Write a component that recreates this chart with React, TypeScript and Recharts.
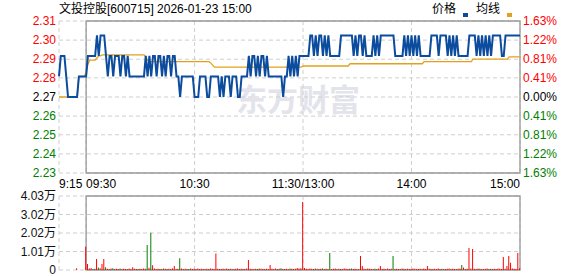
import {
  ComposedChart,
  BarChart,
  Line,
  Bar,
  Cell,
  XAxis,
  YAxis,
  CartesianGrid,
  ReferenceArea,
} from 'recharts'

const title = '文投控股[600715] 2026-01-23 15:00'
const prevClose = 2.27

// minute index: 0 = 9:15, 15 = 9:30, 135 = 11:30/13:00, 255 = 15:00
const timeTicks = [0, 15, 75, 135, 195, 255]
const timeLabels = ['9:15', '09:30', '10:30', '11:30/13:00', '14:00', '15:00']
const pctTicks = [-1.63, -1.22, -0.81, -0.41, 0, 0.41, 0.81, 1.22, 1.63]
const volTicks = [0, 10075, 20150, 30225, 40300]

const price = [
  2.28, 2.29, 2.29, 2.29, 2.28, 2.27, 2.27, 2.27, 2.27, 2.27,
  2.27, 2.28, 2.28, 2.28, 2.28, 2.28, 2.29, 2.29, 2.29, 2.29,
  2.29, 2.30, 2.29, 2.30, 2.30, 2.30, 2.29, 2.28, 2.29, 2.29,
  2.28, 2.29, 2.29, 2.29, 2.28, 2.29, 2.29, 2.28, 2.29, 2.28,
  2.28, 2.28, 2.28, 2.28, 2.28, 2.28, 2.28, 2.28, 2.29, 2.28,
  2.29, 2.28, 2.29, 2.29, 2.28, 2.29, 2.29, 2.28, 2.29, 2.28,
  2.29, 2.29, 2.28, 2.29, 2.29, 2.28, 2.28, 2.27, 2.28, 2.28,
  2.28, 2.28, 2.28, 2.28, 2.28, 2.27, 2.27, 2.27, 2.28, 2.28,
  2.28, 2.28, 2.27, 2.27, 2.28, 2.28, 2.28, 2.28, 2.28, 2.27,
  2.28, 2.27, 2.28, 2.28, 2.28, 2.27, 2.28, 2.28, 2.28, 2.27,
  2.27, 2.28, 2.28, 2.28, 2.28, 2.29, 2.28, 2.29, 2.29, 2.28,
  2.29, 2.28, 2.29, 2.29, 2.28, 2.29, 2.28, 2.28, 2.28, 2.28,
  2.28, 2.28, 2.28, 2.28, 2.27, 2.28, 2.28, 2.29, 2.28, 2.29,
  2.28, 2.29, 2.28, 2.29, 2.29, 2.29, 2.29, 2.29, 2.29, 2.30,
  2.30, 2.29, 2.30, 2.29, 2.30, 2.30, 2.29, 2.30, 2.29, 2.30,
  2.29, 2.29, 2.29, 2.29, 2.29, 2.29, 2.30, 2.30, 2.30, 2.30,
  2.30, 2.30, 2.30, 2.29, 2.30, 2.29, 2.30, 2.30, 2.29, 2.30,
  2.29, 2.29, 2.29, 2.29, 2.30, 2.29, 2.30, 2.29, 2.30, 2.30,
  2.30, 2.30, 2.30, 2.30, 2.30, 2.30, 2.29, 2.29, 2.29, 2.29,
  2.29, 2.30, 2.29, 2.30, 2.29, 2.30, 2.29, 2.30, 2.29, 2.30,
  2.29, 2.29, 2.29, 2.29, 2.29, 2.29, 2.30, 2.30, 2.30, 2.30,
  2.29, 2.30, 2.30, 2.30, 2.30, 2.29, 2.30, 2.29, 2.30, 2.29,
  2.30, 2.29, 2.29, 2.29, 2.29, 2.29, 2.29, 2.30, 2.30, 2.30,
  2.30, 2.29, 2.30, 2.29, 2.30, 2.29, 2.30, 2.29, 2.30, 2.29,
  2.30, 2.30, 2.30, 2.30, 2.30, 2.29, 2.29, 2.30, 2.30, 2.30,
  2.30, 2.30, 2.30, 2.30, 2.30, 2.30,
]

const avgPrice = [
  2.27, 2.27, 2.27, 2.27, 2.27, 2.27, 2.27, 2.27, 2.27, 2.27,
  2.27, 2.28, 2.28, 2.28, 2.28, 2.282, 2.286, 2.288, 2.288, 2.288,
  2.288, 2.289, 2.29, 2.29, 2.2905, 2.2905, 2.2905, 2.2905, 2.2905, 2.2905,
  2.2905, 2.2905, 2.2905, 2.2905, 2.2905, 2.2905, 2.2905, 2.2905, 2.2905, 2.2905,
  2.2905, 2.2905, 2.2905, 2.2905, 2.2905, 2.2905, 2.2905, 2.2905, 2.2895, 2.288,
  2.2872, 2.2872, 2.2872, 2.2872, 2.2872, 2.2872, 2.2872, 2.2872, 2.2872, 2.2872,
  2.2872, 2.2872, 2.2872, 2.2872, 2.2872, 2.2872, 2.2872, 2.2872, 2.2872, 2.2872,
  2.2872, 2.2872, 2.2872, 2.2872, 2.2872, 2.2872, 2.2872, 2.2872, 2.2872, 2.2872,
  2.2872, 2.2872, 2.2872, 2.2872, 2.2865, 2.2855, 2.2845, 2.2845, 2.2845, 2.2845,
  2.2845, 2.2845, 2.2845, 2.2845, 2.2845, 2.2845, 2.2845, 2.2845, 2.2845, 2.2845,
  2.2845, 2.2845, 2.2845, 2.2845, 2.2845, 2.2845, 2.2845, 2.2845, 2.2845, 2.2845,
  2.2845, 2.2845, 2.2845, 2.2845, 2.2845, 2.2845, 2.2845, 2.2845, 2.2845, 2.2845,
  2.2845, 2.2845, 2.2845, 2.2845, 2.2845, 2.2845, 2.2845, 2.2845, 2.2845, 2.2845,
  2.2845, 2.2845, 2.2845, 2.2845, 2.2845, 2.2851, 2.2851, 2.2851, 2.2851, 2.2851,
  2.2851, 2.2851, 2.2851, 2.2851, 2.2851, 2.2851, 2.2851, 2.2851, 2.2851, 2.2851,
  2.2851, 2.2851, 2.2851, 2.2851, 2.2851, 2.2851, 2.2851, 2.2851, 2.2851, 2.2851,
  2.2851, 2.2862, 2.2862, 2.2862, 2.2862, 2.2862, 2.2862, 2.2862, 2.2862, 2.2862,
  2.2862, 2.2862, 2.2862, 2.2862, 2.2862, 2.2862, 2.2862, 2.2862, 2.2862, 2.2862,
  2.2862, 2.2862, 2.2862, 2.2862, 2.2862, 2.2862, 2.2862, 2.2862, 2.2862, 2.2862,
  2.2862, 2.2862, 2.2862, 2.2862, 2.2862, 2.2862, 2.2862, 2.2862, 2.2862, 2.2862,
  2.2862, 2.2862, 2.2872, 2.2872, 2.2872, 2.2872, 2.2872, 2.2872, 2.2872, 2.2872,
  2.2872, 2.2872, 2.2872, 2.2872, 2.2872, 2.2872, 2.2872, 2.2872, 2.2872, 2.2872,
  2.2872, 2.2872, 2.2872, 2.2872, 2.2872, 2.2872, 2.2872, 2.2872, 2.2872, 2.2884,
  2.2884, 2.2884, 2.2884, 2.2884, 2.2884, 2.2884, 2.2884, 2.2884, 2.2884, 2.2884,
  2.2884, 2.2884, 2.2884, 2.2884, 2.2884, 2.2884, 2.2884, 2.2884, 2.2884, 2.2895,
  2.2895, 2.2895, 2.2895, 2.2895, 2.2895, 2.2895,
]

const volume = [
  0, 0, 0, 0, 0, 0, 0, 0, 0, 0,
  1000, 0, 0, 0, 0, 12700, 3300, 800, 1100, 600,
  700, 6000, 1300, 900, 3300, 6000, 1500, 700, 600, 800,
  900, 600, 700, 500, 800, 600, 700, 500, 600, 800,
  600, 1500, 700, 600, 500, 700, 600, 800, 700, 13600,
  1200, 20300, 2600, 800, 600, 700, 500, 600, 800, 700,
  600, 700, 500, 800, 2200, 600, 700, 6400, 800, 600,
  700, 500, 600, 800, 600, 700, 500, 800, 600, 700,
  600, 500, 700, 600, 800, 700, 600, 9000, 700, 600,
  500, 700, 600, 800, 600, 700, 500, 600, 700, 800,
  600, 700, 500, 600, 800, 5500, 700, 600, 500, 700,
  600, 800, 700, 600, 500, 700, 600, 2700, 700, 600,
  800, 600, 700, 900, 600, 500, 700, 600, 800, 700,
  600, 700, 1100, 800, 900, 37000, 1100, 700, 600, 800,
  700, 600, 800, 700, 600, 700, 800, 600, 700, 500,
  9300, 600, 700, 800, 600, 700, 500, 600, 800, 700,
  600, 700, 800, 600, 700, 500, 600, 7600, 2200, 700,
  600, 800, 700, 600, 500, 700, 600, 800, 2200, 600,
  700, 600, 800, 500, 700, 7600, 600, 700, 500, 600,
  800, 700, 600, 700, 500, 600, 800, 700, 600, 500,
  700, 600, 800, 600, 2200, 700, 600, 500, 700, 600,
  800, 600, 700, 500, 600, 700, 800, 600, 700, 500,
  600, 700, 800, 2700, 1300, 600, 700, 12000, 800, 11400,
  700, 600, 800, 700, 500, 600, 700, 800, 600, 700,
  500, 700, 600, 800, 700, 600, 7100, 700, 2200, 7600,
  4000, 800, 700, 600, 9300, 900,
]

// minutes whose volume bar is green (price fell)
const greenBars = [
  19, 22, 26, 30, 34, 44, 49, 51, 58, 67, 72, 95, 110, 123, 128, 142, 146,
  150, 162, 175, 185, 191, 212, 223, 233, 238,
]

const FONT = '"Liberation Sans", Arial, "Noto Sans CJK SC", sans-serif'
const RED = '#ff0000'
const GREEN = '#008000'
const BLUE = '#0b4c9f'
const GOLD = '#e2a11c'
const GRID = '#cfcfcf'
const FRAME = '#999999'

const priceTicks = pctTicks.map((p) => prevClose * (1 + p / 100))
const lo = priceTicks[0]
const hi = priceTicks[priceTicks.length - 1]

const priceData = price.map((p, i) => ({ t: i, price: p, avg: avgPrice[i] }))
const volData = volume.map((v, i) => ({ t: i, vol: v }))

function tickColor(v: number) {
  const d = v - prevClose
  if (Math.abs(d) < 0.001) return '#000'
  return d > 0 ? RED : GREEN
}

function PriceTick({ x, y, payload }: any) {
  return (
    <text x={x} y={y} dy="0.355em" textAnchor="end" fill={tickColor(payload.value)} fontSize={12} fontFamily={FONT}>
      {payload.value.toFixed(2)}
    </text>
  )
}

function PctTick({ x, y, payload }: any) {
  const pct = Math.abs((payload.value / prevClose - 1) * 100)
  return (
    <text x={x} y={y} dy="0.355em" textAnchor="start" fill={tickColor(payload.value)} fontSize={12} fontFamily={FONT}>
      {pct.toFixed(2) + '%'}
    </text>
  )
}

function TimeTick({ x, y, payload }: any) {
  const idx = timeTicks.indexOf(payload.value)
  const anchor = idx <= 1 ? 'start' : idx === timeTicks.length - 1 ? 'end' : 'middle'
  return (
    <text x={x} y={y} dy={13} textAnchor={anchor} fill="#000" fontSize={12} fontFamily={FONT}>
      {timeLabels[idx]}
    </text>
  )
}

function VolTick({ x, y, payload }: any) {
  const v = payload.value
  const label = v === 0 ? '0' : (v / 10000).toFixed(2) + '万'
  return (
    <text x={x} y={y} dy="0.355em" textAnchor="end" fill="#111" fontSize={12} fontFamily={FONT}>
      {label}
    </text>
  )
}

export default function App() {
  return (
    <div style={{ position: 'absolute', left: 0, top: 0, width: 578, height: 276, background: '#fff', overflow: 'hidden' }}>
      <div
        style={{
          position: 'absolute', left: 236, top: 81, fontSize: 31, lineHeight: '34px', fontWeight: 700,
          color: '#e3e4eb', fontFamily: '"Noto Sans CJK SC", sans-serif', letterSpacing: 0,
        }}
      >
        东方财富
      </div>
      <div style={{ position: 'absolute', left: 59, top: 1, fontSize: 12, lineHeight: '16px', fontFamily: FONT, color: '#000' }}>
        {title}
      </div>
      <div style={{ position: 'absolute', left: 432, top: 1, fontSize: 12, lineHeight: '16px', fontFamily: FONT, color: '#000' }}>价格</div>
      <div style={{ position: 'absolute', left: 463, top: 13, width: 5, height: 4, background: BLUE }} />
      <div style={{ position: 'absolute', left: 476, top: 1, fontSize: 12, lineHeight: '16px', fontFamily: FONT, color: '#000' }}>均线</div>
      <div style={{ position: 'absolute', left: 507, top: 13, width: 5, height: 4, background: GOLD }} />

      <div style={{ position: 'absolute', left: 0, top: 0 }}>
        <ComposedChart width={578} height={190} data={priceData} margin={{ top: 21, right: 0, left: 0, bottom: 0 }}>
          <CartesianGrid stroke={GRID} strokeDasharray="4 3" />
          <XAxis
            dataKey="t"
            type="number"
            domain={[0, 255]}
            ticks={timeTicks}
            interval={0}
            height={17}
            tickLine={false}
            axisLine={false}
            tickSize={0}
            tick={<TimeTick />}
          />
          <YAxis
            type="number"
            domain={[lo, hi]}
            ticks={priceTicks}
            interval={0}
            width={59}
            tickLine={false}
            axisLine={false}
            tickSize={0}
            tickMargin={3}
            tick={<PriceTick />}
          />
          <YAxis
            yAxisId="pct"
            orientation="right"
            type="number"
            domain={[lo, hi]}
            ticks={priceTicks}
            interval={0}
            width={58}
            tickLine={false}
            axisLine={false}
            tickSize={0}
            tickMargin={3}
            tick={<PctTick />}
          />
          <ReferenceArea x1={15} x2={255} y1={lo} y2={hi} fill="none" stroke={FRAME} strokeWidth={1.3} />
          <Line yAxisId="pct" dataKey="avg" type="linear" stroke={GOLD} strokeWidth={1.3} dot={false} isAnimationActive={false} />
          <Line dataKey="price" type="linear" stroke={BLUE} strokeWidth={2} dot={false} isAnimationActive={false} />
        </ComposedChart>
      </div>

      <div style={{ position: 'absolute', left: 0, top: 190 }}>
        <BarChart width={578} height={86} data={volData} margin={{ top: 6, right: 58, left: 0, bottom: 6 }}>
          <CartesianGrid stroke={GRID} strokeDasharray="4 3" />
          <XAxis dataKey="t" type="number" domain={[0, 255]} ticks={timeTicks} interval={0} hide />
          <YAxis
            type="number"
            domain={[0, 40300]}
            ticks={volTicks}
            interval={0}
            width={59}
            tickLine={false}
            axisLine={false}
            tickSize={0}
            tickMargin={3}
            tick={<VolTick />}
          />
          <ReferenceArea x1={15} x2={255} y1={0} y2={40300} fill="none" stroke={FRAME} strokeWidth={1.3} />
          <Bar dataKey="vol" barSize={1} isAnimationActive={false}>
            {volData.map((d) => (
              <Cell key={d.t} fill={greenBars.includes(d.t) ? GREEN : RED} />
            ))}
          </Bar>
        </BarChart>
      </div>
    </div>
  )
}
